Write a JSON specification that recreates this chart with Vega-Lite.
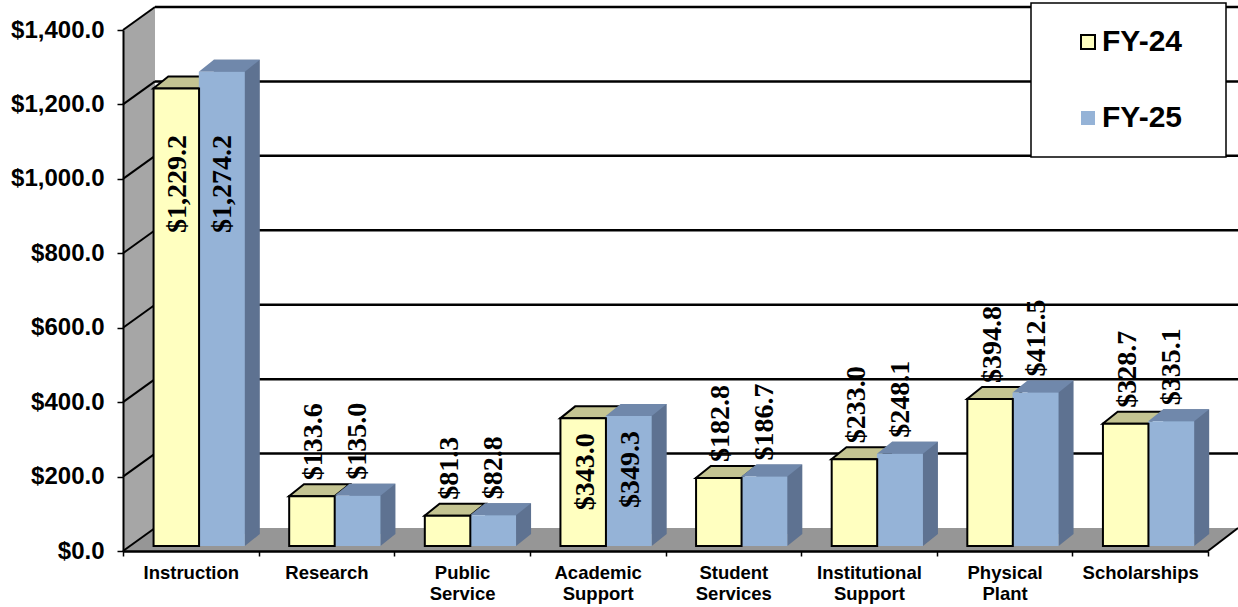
{
"$schema":"https://vega.github.io/schema/vega-lite/v6.json",
"width":1085,"height":521,
"autosize":{"type":"none"},
"padding":{"left":123,"top":30,"right":30,"bottom":56},
"background":"white",
"config":{"view":{"stroke":null}},
"datasets":{
"bars":[
{"Category":"Instruction","Year":"FY-24","Value":1229.2},{"Category":"Instruction","Year":"FY-25","Value":1274.2},
{"Category":"Research","Year":"FY-24","Value":133.6},{"Category":"Research","Year":"FY-25","Value":135.0},
{"Category":"Public Service","Year":"FY-24","Value":81.3},{"Category":"Public Service","Year":"FY-25","Value":82.8},
{"Category":"Academic Support","Year":"FY-24","Value":343.0},{"Category":"Academic Support","Year":"FY-25","Value":349.3},
{"Category":"Student Services","Year":"FY-24","Value":182.8},{"Category":"Student Services","Year":"FY-25","Value":186.7},
{"Category":"Institutional Support","Year":"FY-24","Value":233.0},{"Category":"Institutional Support","Year":"FY-25","Value":248.1},
{"Category":"Physical Plant","Year":"FY-24","Value":394.8},{"Category":"Physical Plant","Year":"FY-25","Value":412.5},
{"Category":"Scholarships","Year":"FY-24","Value":328.7},{"Category":"Scholarships","Year":"FY-25","Value":335.1}],
"ticks":[{"v":0},{"v":200},{"v":400},{"v":600},{"v":800},{"v":1000},{"v":1200},{"v":1400}]
},
"data":{"name":"bars"},
"encoding":{
"x":{"field":"Category","type":"nominal","title":null,
 "scale":{"domain":["Instruction","Research","Public Service","Academic Support","Student Services","Institutional Support","Physical Plant","Scholarships"],"paddingInner":0,"paddingOuter":0},
 "axis":{"labelExpr":"split(datum.label,' ')","labelAngle":0,"labelFont":"Liberation Sans","labelFontWeight":"bold","labelFontSize":18.5,"labelColor":"black","labelLineHeight":21,"labelPadding":7,"tickColor":"black","tickSize":5,"tickWidth":1.5,"tickBand":"extent","domainColor":"black","domainWidth":2.5,"zindex":1,"labelLimit":200}},
"y":{"field":"Value","type":"quantitative","title":null,
 "scale":{"domain":[0,1400],"nice":false},
 "axis":{"values":[0,200,400,600,800,1000,1200,1400],"format":"$,.1f","grid":false,"labelFont":"Liberation Sans","labelFontWeight":"bold","labelFontSize":24,"labelColor":"black","labelPadding":13,"tickColor":"black","tickSize":6,"tickWidth":1.5,"domainColor":"black","domainWidth":2,"zindex":1}}
},
"layer":[
{"data":{"name":"ticks"},"transform":[{"filter":"datum.v==0"}],"mark":{"type":"point","filled":true,"size":4,"opacity":1,"color":"#A6A6A6","shape":"M0,0L32,-23L32,-544L0,-521Z"},
 "encoding":{"x":{"datum":"Instruction","bandPosition":0},"y":{"field":"v","type":"quantitative"}}},
{"data":{"name":"ticks"},"transform":[{"filter":"datum.v==0"}],"mark":{"type":"point","filled":true,"size":4,"opacity":1,"color":"#969696","shape":"M0,0L32,-23L1115,-23L1085,0Z"},
 "encoding":{"x":{"datum":"Instruction","bandPosition":0},"y":{"field":"v","type":"quantitative"}}},
{"data":{"name":"ticks"},"transform":[{"filter":"datum.v>0"}],"mark":{"type":"rule","color":"black","strokeWidth":2.5,"xOffset":32,"x2Offset":30,"yOffset":-23},
 "encoding":{"x":{"datum":"Instruction","bandPosition":0},"x2":{"datum":"Scholarships","bandPosition":1},"y":{"field":"v","type":"quantitative"}}},
{"data":{"name":"ticks"},"mark":{"type":"point","filled":false,"size":4,"opacity":1,"stroke":"black","strokeWidth":2,"shape":"M0,0L32,-23"},
 "encoding":{"x":{"datum":"Instruction","bandPosition":0},"y":{"field":"v","type":"quantitative"}}},
{"data":{"name":"ticks"},"transform":[{"filter":"datum.v==0"}],"mark":{"type":"point","filled":false,"size":4,"opacity":1,"stroke":"black","strokeWidth":2,"shape":"M0,0L30,-23"},
 "encoding":{"x":{"datum":"Scholarships","bandPosition":1},"y":{"field":"v","type":"quantitative"}}},
{"transform":[{"filter":"datum.Year=='FY-25'"}],"mark":{"type":"bar","color":"#5E7291","width":46,"xOffset":46,"yOffset":-17,"y2Offset":-17},
 "encoding":{}},
{"transform":[{"filter":"datum.Year=='FY-25'"}],"mark":{"type":"point","filled":true,"size":4,"opacity":1,"color":"#5E7291","shape":"M46,0L61,-12L46,-12Z","xOffset":8,"yOffset":-5},
 "encoding":{"y":{"datum":0}}},
{"transform":[{"filter":"datum.Year=='FY-24'"}],"mark":{"type":"point","filled":true,"size":4,"opacity":1,"color":"#C4C492","stroke":"black","strokeWidth":2,"shape":"M-45.5,0L-30.5,-12L15,-12L0,0Z","xOffset":8,"yOffset":-5},
 "encoding":{}},
{"transform":[{"filter":"datum.Year=='FY-25'"}],"mark":{"type":"point","filled":true,"size":4,"opacity":1,"color":"#7088AB","shape":"M0,0L15,-12L61,-12L46,0Z","xOffset":8,"yOffset":-5},
 "encoding":{}},
{"transform":[{"filter":"datum.Year=='FY-25'"}],"mark":{"type":"bar","color":"#95B3D7","width":46,"xOffset":31,"yOffset":-5,"y2Offset":-5},
 "encoding":{}},
{"transform":[{"filter":"datum.Year=='FY-24'"}],"mark":{"type":"bar","color":"#FFFFC0","stroke":"black","strokeWidth":2,"width":45.5,"xOffset":-14.5,"yOffset":-5,"y2Offset":-5},
 "encoding":{}},
{"transform":[{"filter":"datum.Category!='Instruction' && datum.Category!='Academic Support' && datum.Year=='FY-24'"}],
 "mark":{"type":"text","font":"Liberation Serif","fontWeight":"bold","fontSize":28,"angle":270,"align":"left","baseline":"middle","color":"black","xOffset":-12,"yOffset":-21},
 "encoding":{"text":{"field":"Value","type":"quantitative","format":"$,.1f"}}},
{"transform":[{"filter":"datum.Category!='Instruction' && datum.Category!='Academic Support' && datum.Year=='FY-25'"}],
 "mark":{"type":"text","font":"Liberation Serif","fontWeight":"bold","fontSize":28,"angle":270,"align":"left","baseline":"middle","color":"black","xOffset":32,"yOffset":-21},
 "encoding":{"text":{"field":"Value","type":"quantitative","format":"$,.1f"}}},
{"transform":[{"filter":"datum.Category=='Academic Support' && datum.Year=='FY-24'"}],
 "mark":{"type":"text","font":"Liberation Serif","fontWeight":"bold","fontSize":28,"angle":270,"align":"right","baseline":"middle","color":"black","xOffset":-12,"yOffset":10},
 "encoding":{"text":{"field":"Value","type":"quantitative","format":"$,.1f"}}},
{"transform":[{"filter":"datum.Category=='Academic Support' && datum.Year=='FY-25'"}],
 "mark":{"type":"text","font":"Liberation Serif","fontWeight":"bold","fontSize":28,"angle":270,"align":"right","baseline":"middle","color":"black","xOffset":33,"yOffset":10},
 "encoding":{"text":{"field":"Value","type":"quantitative","format":"$,.1f"}}},
{"transform":[{"filter":"datum.Category=='Instruction' && datum.Year=='FY-24'"}],
 "mark":{"type":"text","font":"Liberation Serif","fontWeight":"bold","fontSize":28,"angle":270,"align":"right","baseline":"middle","color":"black","xOffset":-13},
 "encoding":{"y":{"datum":1118},"text":{"field":"Value","type":"quantitative","format":"$,.1f"}}},
{"transform":[{"filter":"datum.Category=='Instruction' && datum.Year=='FY-25'"}],
 "mark":{"type":"text","font":"Liberation Serif","fontWeight":"bold","fontSize":28,"angle":270,"align":"right","baseline":"middle","color":"black","xOffset":32},
 "encoding":{"y":{"datum":1118},"text":{"field":"Value","type":"quantitative","format":"$,.1f"}}},
{"data":{"name":"ticks"},"transform":[{"filter":"datum.v==1400"}],"mark":{"type":"point","filled":true,"size":4,"opacity":1,"fill":"white","stroke":"black","strokeWidth":1.5,"shape":"M-177,-27L18,-27L18,127L-177,127Z"},
 "encoding":{"x":{"datum":"Scholarships","bandPosition":1},"y":{"field":"v","type":"quantitative"}}},
{"data":{"values":[{"Year":"FY-24"},{"Year":"FY-25"}]},"mark":{"type":"square","size":0,"opacity":1},
 "encoding":{"x":{"datum":"Scholarships"},"y":{"datum":1400},
 "fill":{"field":"Year","type":"nominal","scale":{"domain":["FY-24","FY-25"],"range":["#FFFFC0","#95B3D7"]},
  "legend":{"title":null,"orient":"none","legendX":950,"legendY":-3,"symbolType":"square","symbolSize":196,"symbolStrokeWidth":2,"symbolOpacity":1,"labelFont":"Liberation Sans","labelFontWeight":"bold","labelFontSize":30,"labelColor":"black","labelOffset":-1,"rowPadding":46,"padding":0}},
 "stroke":{"field":"Year","type":"nominal","scale":{"domain":["FY-24","FY-25"],"range":["black","transparent"]}}}}
]
}
